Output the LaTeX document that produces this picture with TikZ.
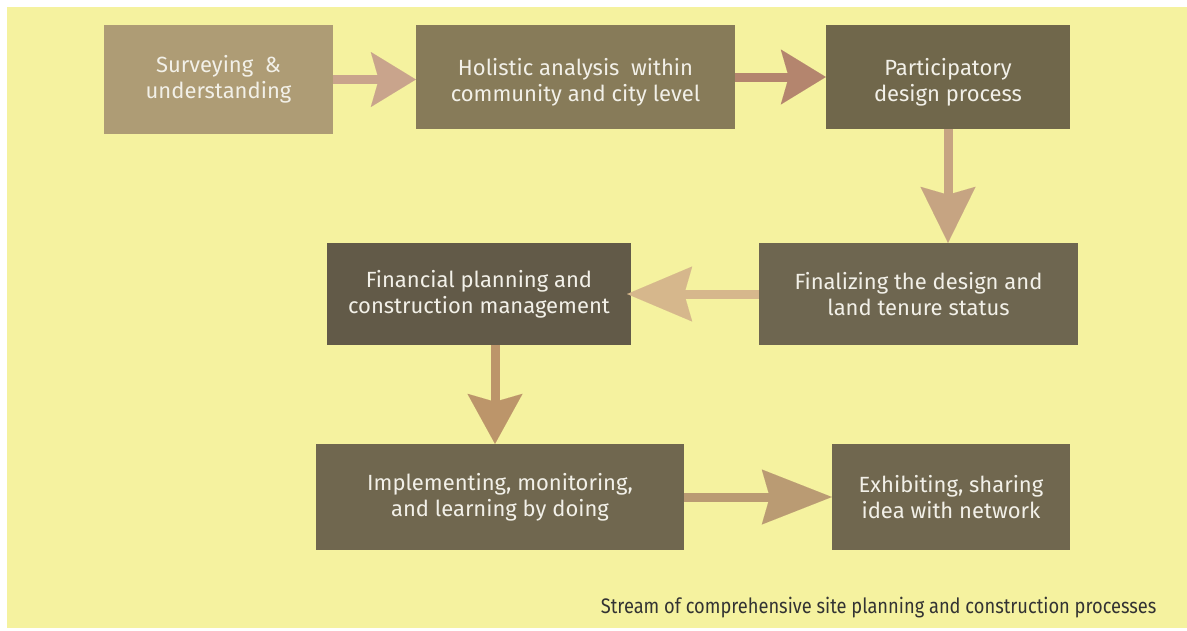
\documentclass[tikz,border=0pt]{standalone}
\usepackage{fontspec}
\setmainfont{Fira Sans}
\newfontfamily\capfont[FakeStretch=0.87]{Fira Sans}
\usetikzlibrary{arrows.meta}
\definecolor{bgyellow}{HTML}{F5F29F}
\definecolor{boxa}{HTML}{AE9C75}
\definecolor{boxb}{HTML}{877B59}
\definecolor{boxc}{HTML}{70674B}
\definecolor{boxd}{HTML}{6E6650}
\definecolor{boxe}{HTML}{625A48}
\definecolor{boxf}{HTML}{70674F}
\definecolor{arra}{HTML}{C9A48C}
\definecolor{arrb}{HTML}{B4856E}
\definecolor{arrc}{HTML}{C6A482}
\definecolor{arrd}{HTML}{D6B78C}
\definecolor{arre}{HTML}{BC956A}
\definecolor{arrf}{HTML}{BA9B73}
\definecolor{boxtext}{HTML}{F2F0E8}
\newcommand{\lowstrut}{\rule{0pt}{28pt}}
\tikzset{
  stepbox/.style={rectangle, inner sep=0pt, text=boxtext, align=center,
    font=\fontsize{22}{26}\selectfont},
  flow/.style={line width=9pt,
    -{Stealth[length=#1, width=55pt, inset=8pt, line width=0.01pt]}},
  flow/.default=45pt
}
\begin{document}
\begin{tikzpicture}[x=1pt,y=-1pt]
\useasboundingbox (0,0) rectangle (1187,630);
\fill[bgyellow] (7,7) rectangle (1187,628);
% boxes
\node[stepbox, fill=boxa, minimum width=229pt, minimum height=109pt] (surv) at (218.5,79.5) {Surveying\ \ \&\\understanding};
\node[stepbox, fill=boxb, minimum width=319pt, minimum height=104pt] (holi) at (575.5,77) {\lowstrut Holistic analysis\ \ within\\community and city level};
\node[stepbox, fill=boxc, minimum width=244pt, minimum height=104pt] (part) at (948,77) {\lowstrut Participatory\\design process};
\node[stepbox, fill=boxd, minimum width=319pt, minimum height=102pt] (fina) at (918.5,294) {Finalizing the design and\\land tenure status};
\node[stepbox, fill=boxe, minimum width=304pt, minimum height=102pt] (finc) at (479,294) {Financial planning and\\construction management};
\node[stepbox, fill=boxf, minimum width=368pt, minimum height=106pt] (impl) at (500,497) {Implementing, monitoring,\\ and learning by doing};
\node[stepbox, fill=boxf, minimum width=238pt, minimum height=106pt] (exhi) at (951,497) {Exhibiting, sharing\\idea with network};
% arrows
\draw[flow, arra] (surv.east) -- (surv.east -| holi.west);
\draw[flow, arrb] (holi.east) -- (part.west);
\draw[flow=56pt, arrc] (part.south) -- (part.south |- fina.north);
\draw[flow=65pt, arrd] (fina.west) -- ([xshift=-4pt]finc.east);
\draw[flow=50pt, arre] ([xshift=-5pt]impl.north |- finc.south) -- ([xshift=-5pt]impl.north);
\draw[flow=70pt, arrf] (impl.east) -- (exhi.west);
% caption
\node[anchor=base east, font=\capfont\fontsize{21}{24}\selectfont, text=black!80] (cap) at (1160,613) {Stream of comprehensive site planning and construction processes};
\end{tikzpicture}
\end{document}
